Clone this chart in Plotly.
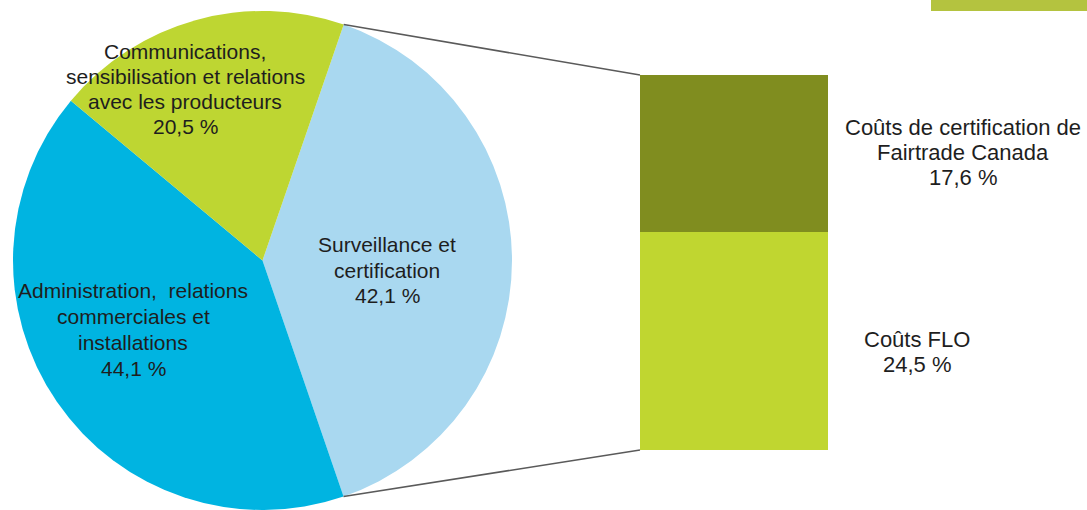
import math
import plotly.graph_objects as go

# ---- data ----
pie_labels = ["Surveillance et certification",
              "Administration, relations commerciales et installations",
              "Communications, sensibilisation et relations avec les producteurs"]
pie_values = [42.1, 44.1, 20.5]
pie_colors = ["#a9d8f0", "#00b4e1", "#bed632"]

bar_labels = ["Coûts FLO", "Coûts de certification de Fairtrade Canada"]
bar_values = [24.5, 17.6]
bar_colors = ["#c0d630", "#808d1f"]

pie_text = [
    ["Surveillance et", "certification", "42,1 %"],
    ["Administration,  relations", "commerciales et", "installations", "44,1 %"],
    ["Communications,", "sensibilisation et relations", "avec les producteurs", "20,5 %"],
]
bar_text = [
    ["Coûts FLO", "24,5 %"],
    ["Coûts de certification de", "Fairtrade Canada", "17,6 %"],
]

W, H = 1087, 510
FONT = "Liberation Sans, Arial, sans-serif"
TXT = "#1e1e1e"

# layout geometry (pixels)
pie_px = (12, 513, 11, 510)  # x0, x1, ytop, ybottom
bar_px = (640, 828, 75, 450)
rotation = 19

pd_x = [pie_px[0] / W, pie_px[1] / W]
pd_y = [1 - pie_px[3] / H, 1 - pie_px[2] / H]
bd_x = [bar_px[0] / W, bar_px[1] / W]
bd_y = [1 - bar_px[3] / H, 1 - bar_px[2] / H]

fig = go.Figure()
fig.add_trace(go.Pie(
    labels=pie_labels, values=pie_values, sort=False, direction="clockwise",
    rotation=rotation, marker=dict(colors=pie_colors, line=dict(width=0)),
    textinfo="none", hoverinfo="skip", showlegend=False,
    domain=dict(x=pd_x, y=pd_y)))

for lab, val, col in zip(bar_labels, bar_values, bar_colors):
    fig.add_trace(go.Bar(x=[0], y=[val], name=lab, marker=dict(color=col, line=dict(width=0)),
                         width=1, hoverinfo="skip", showlegend=False,
                         xaxis="x", yaxis="y"))

total_bar = sum(bar_values)

# connecting lines computed from pie geometry and bar extents
cx = (pie_px[0] + pie_px[1]) / 2
cy = (pie_px[2] + pie_px[3]) / 2
r = min(pie_px[1] - pie_px[0], pie_px[3] - pie_px[2]) / 2
a1 = math.radians(rotation)
a2 = math.radians(rotation + pie_values[0] / sum(pie_values) * 360)
p_top = (cx + r * math.sin(a1), cy - r * math.cos(a1))
p_bot = (cx + r * math.sin(a2), cy - r * math.cos(a2))
shapes = []
for (px, py), yb in [(p_top, bd_y[1]), (p_bot, bd_y[0])]:
    shapes.append(dict(type="line", xref="paper", yref="paper",
                       x0=px / W, y0=1 - py / H, x1=bd_x[0], y1=yb,
                       line=dict(color="#5a5a5a", width=1.5)))
# top-right green tab
shapes.append(dict(type="rect", xref="paper", yref="paper", x0=931 / W, x1=1.0,
                   y0=1 - 11 / H, y1=1.0, fillcolor="#b4c33f", line=dict(width=0), layer="above"))

annotations = []


def add_block(lines, xc, yc, size, spacing):
    n = len(lines)
    for i, t in enumerate(lines):
        y = yc + (i - (n - 1) / 2) * spacing
        annotations.append(dict(text=t, x=xc / W, y=1 - y / H, xref="paper", yref="paper",
                                showarrow=False, xanchor="center", yanchor="middle",
                                font=dict(family=FONT, size=size, color=TXT)))


add_block(pie_text[0], 387, 270, 21, 25.5)
add_block(pie_text[1], 133, 329, 21, 26)
add_block(pie_text[2], 185, 89, 21, 25)
add_block(bar_text[0], 917, 352, 22, 25)
add_block(bar_text[1], 963, 152, 22, 25)

fig.update_layout(
    width=W, height=H, margin=dict(l=0, r=0, t=0, b=0),
    paper_bgcolor="white", plot_bgcolor="rgba(0,0,0,0)",
    barmode="stack", bargap=0,
    xaxis=dict(domain=bd_x, range=[-0.5, 0.5], visible=False, fixedrange=True),
    yaxis=dict(domain=bd_y, range=[0, total_bar], visible=False, fixedrange=True),
    shapes=shapes, annotations=annotations, showlegend=False,
)

fig.write_html("out.html", config={"displayModeBar": False})
